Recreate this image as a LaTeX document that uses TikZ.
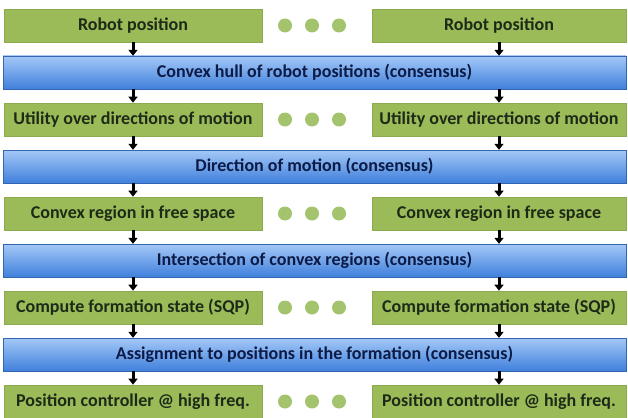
\documentclass[tikz,border=0pt]{standalone}
\usepackage{fontspec}
\setmainfont{Carlito}
\usetikzlibrary{arrows.meta}
\definecolor{gfill}{HTML}{9BBB59}
\definecolor{gdraw}{HTML}{8CAA4E}
\definecolor{gtext}{HTML}{1E2A18}
\definecolor{btop}{HTML}{A4C8F7}
\definecolor{bbot}{HTML}{4080DC}
\definecolor{btext}{HTML}{0C1B45}
\definecolor{dotc}{HTML}{A3C46C}
\begin{document}
\begin{tikzpicture}[x=1pt,y=-1pt,
  gbox/.style={draw=gdraw,line width=0.6pt,fill=gfill,minimum height=33pt,inner sep=0pt,
    font=\fontsize{18}{20}\selectfont\bfseries,text=gtext},
  gleft/.style={gbox,minimum width=258pt},
  gright/.style={gbox,minimum width=254pt},
  bbox/.style={draw=bbot!80!black,line width=0.4pt,top color=btop,bottom color=bbot,
    minimum width=623pt,minimum height=33pt,inner sep=0pt,
    font=\fontsize{18}{20}\selectfont\bfseries,text=btext},
  dotn/.style={circle,fill=dotc,minimum size=14pt,inner sep=0pt},
  conn/.style={line width=3pt,-{Triangle[width=9pt,length=6pt]}}]
\useasboundingbox (0,0) rectangle (628,417);
% rows: top = 9 + 47 i, center = 25.5 + 47 i
\node[gleft]  (g0L) at (133,25.5) {Robot position};
\node[gright] (g0R) at (499,25.5) {Robot position};
\node[bbox]   (b1)  at (314.5,72.5) {Convex hull of robot positions (consensus)};
\node[gleft]  (g2L) at (133,119.5) {Utility over directions of motion};
\node[gright] (g2R) at (499,119.5) {Utility over directions of motion};
\node[bbox]   (b3)  at (314.5,166.5) {Direction of motion (consensus)};
\node[gleft]  (g4L) at (133,213.5) {Convex region in free space};
\node[gright] (g4R) at (499,213.5) {Convex region in free space};
\node[bbox]   (b5)  at (314.5,260.5) {Intersection of convex regions (consensus)};
\node[gleft]  (g6L) at (133,307.5) {Compute formation state (SQP)};
\node[gright] (g6R) at (499,307.5) {Compute formation state (SQP)};
\node[bbox]   (b7)  at (314.5,354.5) {Assignment to positions in the formation (consensus)};
\node[gleft]  (g8L) at (133,401.5) {Position controller @ high freq.};
\node[gright] (g8R) at (499,401.5) {Position controller @ high freq.};
% dots
\foreach \r/\y in {0/25.5,2/119.5,4/213.5,6/307.5,8/401.5}{
  \node[dotn] (d\r a) at (285,\y) {};
  \node[dotn] (d\r b) at (312,\y) {};
  \node[dotn] (d\r c) at (339,\y) {};
}
% arrows
\foreach \g/\b in {g0/b1,g2/b3,g4/b5,g6/b7}{
  \draw[conn] (\g L.south) -- (\b.north -| \g L.south);
  \draw[conn] (\g R.south) -- (\b.north -| \g R.south);
}
\foreach \b/\g in {b1/g2,b3/g4,b5/g6,b7/g8}{
  \draw[conn] (\b.south -| \g L.north) -- (\g L.north);
  \draw[conn] (\b.south -| \g R.north) -- (\g R.north);
}
\end{tikzpicture}
\end{document}
